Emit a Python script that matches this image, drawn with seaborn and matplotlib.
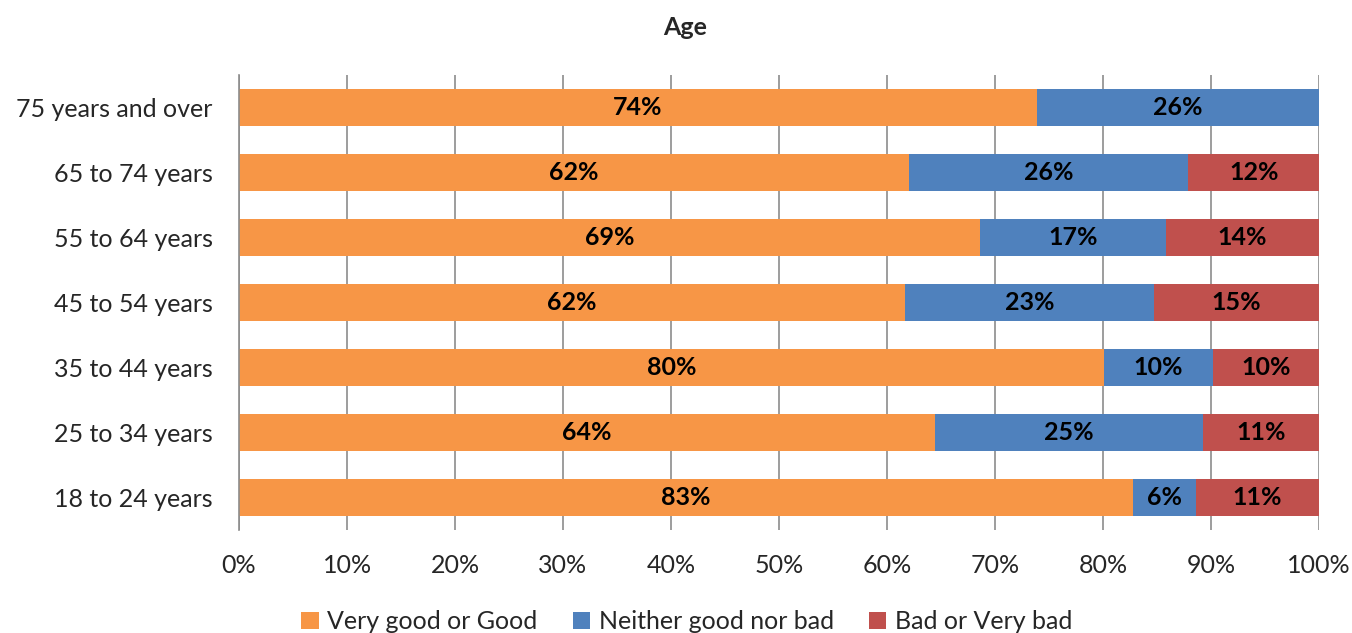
import pandas as pd
import seaborn as sns
import matplotlib.pyplot as plt
from matplotlib.patches import Patch

# Values (percent)
ages = ['75 years and over', '65 to 74 years', '55 to 64 years', '45 to 54 years',
        '35 to 44 years', '25 to 34 years', '18 to 24 years']
good = [73.9, 62.0, 68.6, 61.7, 80.1, 64.4, 82.8]
neither = [26.1, 25.9, 17.2, 23.0, 10.1, 24.9, 5.8]
bad = [0.0, 12.1, 14.2, 15.3, 9.8, 10.7, 11.4]

series = ['Very good or Good', 'Neither good nor bad', 'Bad or Very bad']
colors = ['#F79646', '#4F81BD', '#C0504D']

df = pd.DataFrame({'age': ages, 'good': good, 'neither': neither, 'bad': bad})
df['cum_good'] = df['good']
df['cum_neither'] = df['good'] + df['neither']
df['cum_bad'] = df['cum_neither'] + df['bad']

sns.set_style('white')
plt.rcParams['font.family'] = ['Lato', 'DejaVu Sans']

fig = plt.figure(figsize=(13.52, 6.33), dpi=100)
ax = fig.add_axes([0.1768, 0.1627, 0.7988, 0.7188])

# stacked bars drawn as cumulative layers, longest first
for col, c in zip(['cum_bad', 'cum_neither', 'cum_good'], colors[::-1]):
    sns.barplot(data=df, x=col, y='age', order=ages, color=c, width=0.57,
                orient='h', ax=ax, saturation=1, linewidth=0)

# segment labels
for i, row in df.iterrows():
    starts = [0, row['cum_good'], row['cum_neither']]
    for s, v in zip(starts, [row['good'], row['neither'], row['bad']]):
        if v > 0.5:
            ax.text(s + v / 2, i, f'{round(v):.0f}%', ha='center', va='center',
                    fontsize=18, fontweight='bold', color='black')

ax.set_xlim(0, 100)
ax.set_ylim(6.5, -0.5)
ax.set_xticks(range(0, 101, 10))
ax.set_xticklabels([f'{t}%' for t in range(0, 101, 10)], fontsize=18)
ax.tick_params(axis='y', labelsize=18, length=0, pad=19)
ax.tick_params(axis='x', length=0, pad=17)
ax.set_xlabel('')
ax.set_ylabel('')
ax.grid(axis='x', color='#8c8c8c', linewidth=1.2)
ax.set_axisbelow(True)
for s in ['top', 'right', 'bottom']:
    ax.spines[s].set_visible(False)
ax.spines['left'].set_color('#8c8c8c')
ax.spines['left'].set_linewidth(1.2)

fig.text(0.507, 0.957, 'Age', ha='center', va='center', fontsize=18, fontweight='bold')

handles = [Patch(facecolor=c, edgecolor='none') for c in colors]
fig.legend(handles, series, loc='center', bbox_to_anchor=(0.508, 0.018), ncol=3,
           frameon=False, fontsize=18, handlelength=0.7, handleheight=0.7,
           handletextpad=0.35, columnspacing=1.4)

fig.savefig('out.png', dpi=100)
